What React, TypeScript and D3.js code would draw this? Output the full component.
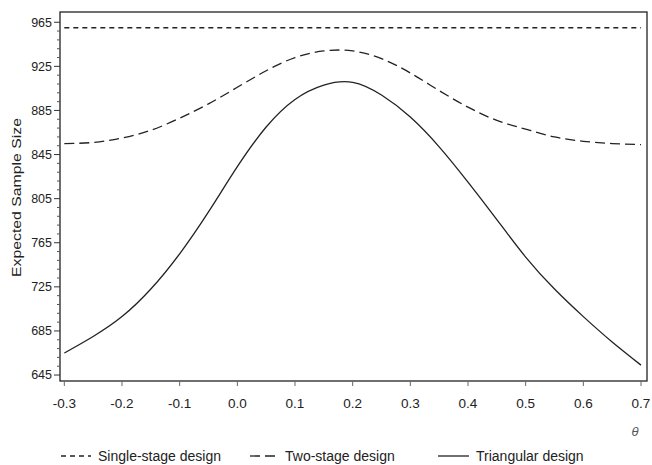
import React, { useEffect, useRef } from 'react'
import * as d3 from 'd3'

const thetas = [-0.3, -0.25, -0.2, -0.15, -0.1, -0.05, 0.0, 0.05, 0.1, 0.15, 0.2, 0.25, 0.3, 0.35, 0.4, 0.45, 0.5, 0.55, 0.6, 0.65, 0.7]
const singleStage = [960, 960, 960, 960, 960, 960, 960, 960, 960, 960, 960, 960, 960, 960, 960, 960, 960, 960, 960, 960, 960]
const twoStage = [855, 856, 860, 867, 878, 891, 906, 921, 933, 939, 939, 932, 919, 903, 888, 876, 868, 861, 857, 855, 854]
const triangular = [665, 680, 698, 723, 755, 793, 834, 870, 895, 908, 910.5, 899, 879, 852, 820, 786, 752, 723, 698, 675, 654]

const xTicks = [-0.3, -0.2, -0.1, 0.0, 0.1, 0.2, 0.3, 0.4, 0.5, 0.6, 0.7]
const yTicks = [645, 685, 725, 765, 805, 845, 885, 925, 965]

const seriesDefs = [
  { name: 'Single-stage design', values: singleStage, dash: '5,4' },
  { name: 'Two-stage design', values: twoStage, dash: '10,5' },
  { name: 'Triangular design', values: triangular, dash: null }
]

const W = 652
const H = 465
const plot = { left: 60, right: 647, top: 12, bottom: 381 }

export default function App () {
  const ref = useRef(null)

  useEffect(() => {
    const svg = d3.select(ref.current)
    svg.selectAll('*').remove()

    const x = d3.scaleLinear().domain([-0.3075, 0.7104]).range([plot.left, plot.right])
    const y = d3.scaleLinear().domain([639.6, 974.3]).range([plot.bottom, plot.top])

    const font = 'Liberation Sans, Arial, sans-serif'
    const ink = '#222'

    // frame
    svg.append('rect')
      .attr('x', plot.left)
      .attr('y', plot.top)
      .attr('width', plot.right - plot.left)
      .attr('height', plot.bottom - plot.top)
      .attr('fill', 'none')
      .attr('stroke', ink)
      .attr('stroke-width', 1.3)

    // y axis, minor ticks every 8
    const yAxis = svg.append('g').attr('transform', `translate(${plot.left},0)`)
    const minor = d3.range(645, 966, 8).filter(v => !yTicks.includes(v))
    yAxis.selectAll('.minor').data(minor).enter().append('line')
      .attr('x1', -3).attr('x2', 0)
      .attr('y1', d => y(d)).attr('y2', d => y(d))
      .attr('stroke', '#555')
    yAxis.selectAll('.major').data(yTicks).enter().append('line')
      .attr('x1', -6).attr('x2', 0)
      .attr('y1', d => y(d)).attr('y2', d => y(d))
      .attr('stroke', '#333')
    yAxis.selectAll('text').data(yTicks).enter().append('text')
      .attr('x', -8)
      .attr('y', d => y(d))
      .attr('dy', '0.35em')
      .attr('text-anchor', 'end')
      .attr('font-family', font)
      .attr('font-size', 12.5)
      .attr('fill', ink)
      .text(d => d)

    svg.append('text')
      .attr('transform', 'translate(21,197.5) rotate(-90)')
      .attr('text-anchor', 'middle')
      .attr('font-family', font)
      .attr('font-size', 13.5)
      .attr('textLength', 159)
      .attr('lengthAdjust', 'spacingAndGlyphs')
      .attr('fill', ink)
      .text('Expected Sample Size')

    // x axis
    const xAxis = svg.append('g').attr('transform', `translate(0,${plot.bottom})`)
    xAxis.selectAll('line').data(xTicks).enter().append('line')
      .attr('x1', d => x(d)).attr('x2', d => x(d))
      .attr('y1', 0).attr('y2', 5)
      .attr('stroke', '#666')
    xAxis.selectAll('text').data(xTicks).enter().append('text')
      .attr('x', d => x(d))
      .attr('y', 27)
      .attr('text-anchor', 'middle')
      .attr('font-family', font)
      .attr('font-size', 13.5)
      .attr('fill', ink)
      .text(d => d.toFixed(1))

    svg.append('text')
      .attr('x', 635)
      .attr('y', 436)
      .attr('text-anchor', 'middle')
      .attr('font-family', font)
      .attr('font-style', 'italic')
      .attr('font-size', 13)
      .attr('fill', '#555')
      .text('θ')

    // curves
    const line = d3.line()
      .x((d, i) => x(thetas[i]))
      .y(d => y(d))
      .curve(d3.curveNatural)

    seriesDefs.forEach(s => {
      svg.append('path')
        .datum(s.values)
        .attr('d', line)
        .attr('fill', 'none')
        .attr('stroke', ink)
        .attr('stroke-width', 1.3)
        .attr('stroke-dasharray', s.dash)
    })

    // legend
    const legendX = [61, 250, 438]
    const legendLen = [30, 28, 31]
    const legend = svg.append('g').attr('transform', 'translate(0,456)')
    seriesDefs.forEach((s, i) => {
      legend.append('line')
        .attr('x1', legendX[i]).attr('x2', legendX[i] + legendLen[i])
        .attr('y1', 0).attr('y2', 0)
        .attr('stroke', ink)
        .attr('stroke-width', 1.3)
        .attr('stroke-dasharray', s.dash)
      legend.append('text')
        .attr('x', legendX[i] + legendLen[i] + 7)
        .attr('y', 0)
        .attr('dy', '0.35em')
        .attr('font-family', font)
        .attr('font-size', 14)
        .attr('fill', ink)
        .text(s.name)
    })
  }, [])

  return (
    <svg ref={ref} width={W} height={H} style={{ position: 'absolute', left: 0, top: 0, background: '#fff' }} />
  )
}
